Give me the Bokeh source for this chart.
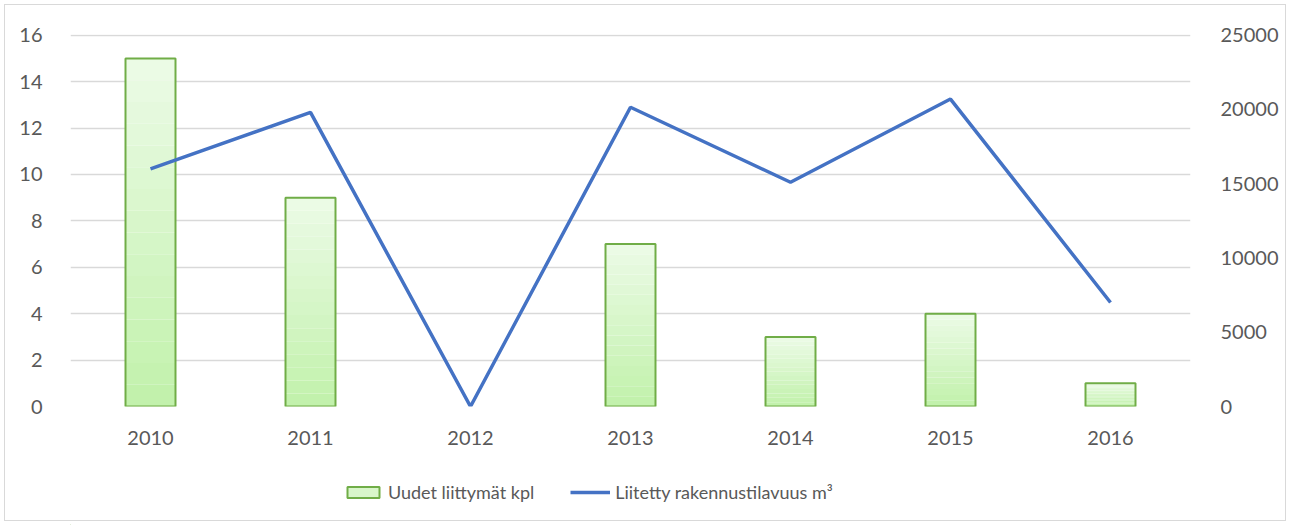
from bokeh.plotting import figure
from bokeh.layouts import column
from bokeh.models import (FactorRange, Range1d, LinearAxis, FixedTicker, Legend,
                          LegendItem, ColumnDataSource)
from bokeh.embed import file_html
from bokeh.resources import INLINE

years = ["2010", "2011", "2012", "2013", "2014", "2015", "2016"]
connections = [15, 9, 0, 7, 3, 4, 1]
volume = [16000, 19800, 0, 20150, 15100, 20700, 7000]
left_ticks = [0, 2, 4, 6, 8, 10, 12, 14, 16]
right_ticks = [0, 5000, 10000, 15000, 20000, 25000]
bar_label = "Uudet liittymät kpl"
line_label = "Liitetty rakennustilavuus m³"

FONT = "Lato"
TXT = "#595959"
TOP_L = 16.03
TOP_R = 25000 * TOP_L / 16
BAR_LINE = "#70ad47"
LINE_COL = "#4472c4"

p = figure(x_range=FactorRange(*years), y_range=Range1d(0, TOP_L),
           width=1290, height=455, output_backend="svg", toolbar_location=None,
           min_border_left=70, min_border_right=100, min_border_top=34,
           min_border_bottom=49)
p.outline_line_color = None
p.border_fill_color = None
p.background_fill_color = None
p.extra_y_ranges = {"vol": Range1d(0, TOP_R)}

# gradient bars: stacked slices from bottom (greener) to top (lighter)
N = 16
c0 = (193, 241, 170)
c1 = (236, 251, 231)
cols = []
for i in range(N):
    f0, f1 = i / N, (i + 1) / N
    t = (i + 0.5) / N
    col = "#%02x%02x%02x" % tuple(int(round(a + (b - a) * t)) for a, b in zip(c0, c1))
    cols.append(col)
    src = ColumnDataSource(dict(x=years,
                                bottom=[v * f0 for v in connections],
                                top=[v * f1 for v in connections]))
    p.vbar(x="x", bottom="bottom", top="top", width=0.3125, source=src,
           fill_color=col, line_color=None)

osrc = ColumnDataSource(dict(x=years, top=connections,
                             la=[1.0 if v > 0 else 0.0 for v in connections]))
p.vbar(x="x", top="top", width=0.3125, source=osrc, fill_alpha=0,
       line_color=BAR_LINE, line_width=2, line_alpha="la")

p.line(x=years, y=volume, y_range_name="vol", line_color=LINE_COL,
       line_width=3.5)

# axes
p.xaxis.axis_line_color = None
p.xaxis.major_tick_line_color = None
p.xaxis.minor_tick_line_color = None
p.xaxis.major_label_standoff = 18
p.xaxis.major_label_text_font = FONT
p.xaxis.major_label_text_font_size = "20px"
p.xaxis.major_label_text_color = TXT

p.yaxis.ticker = FixedTicker(ticks=left_ticks)
p.yaxis.axis_line_color = None
p.yaxis.major_tick_line_color = None
p.yaxis.minor_tick_line_color = None
p.yaxis.major_label_standoff = 22
p.yaxis.major_label_text_font = FONT
p.yaxis.major_label_text_font_size = "20px"
p.yaxis.major_label_text_color = TXT

ax2 = LinearAxis(y_range_name="vol", ticker=FixedTicker(ticks=right_ticks))
ax2.axis_line_color = None
ax2.major_tick_line_color = None
ax2.minor_tick_line_color = None
ax2.major_label_standoff = 24
ax2.major_label_text_font = FONT
ax2.major_label_text_font_size = "20px"
ax2.major_label_text_color = TXT
p.add_layout(ax2, "right")

p.xgrid.grid_line_color = None
p.ygrid.ticker = FixedTicker(ticks=left_ticks)
p.ygrid.grid_line_color = "#d9d9d9"
p.ygrid.grid_line_width = 1.5

# legend strip (proxy glyphs sit far outside the visible range)
q = figure(width=1290, height=70, x_range=Range1d(0, 1), y_range=Range1d(0, 1),
           output_backend="svg", toolbar_location=None, min_border=0)
q.axis.visible = False
q.grid.grid_line_color = None
q.outline_line_color = None
q.border_fill_color = None
q.background_fill_color = None
r_bar = q.vbar(x=[-50], bottom=[-60], top=[-59], width=0.1,
               fill_color=cols[N // 2], line_color=BAR_LINE, line_width=2)
r_line = q.line(x=[-50, -49], y=[-60, -60], line_color=LINE_COL, line_width=3.5)

legend = Legend(items=[
    LegendItem(label=bar_label, renderers=[r_bar]),
    LegendItem(label=line_label, renderers=[r_line]),
], orientation="horizontal", location=(273, 22))
legend.label_text_font = FONT
legend.label_text_font_size = "18px"
legend.label_text_color = TXT
legend.glyph_width = 40
legend.glyph_height = 14
legend.label_standoff = 5
legend.spacing = 36
legend.padding = 0
legend.margin = 0
legend.border_line_color = None
legend.background_fill_alpha = 0
q.add_layout(legend, "center")

layout = column(p, q, spacing=0)
layout.styles = {"outline": "1px solid #d9d9d9", "outline-offset": "-5px"}

open("out.html", "w").write(file_html(layout, INLINE))
